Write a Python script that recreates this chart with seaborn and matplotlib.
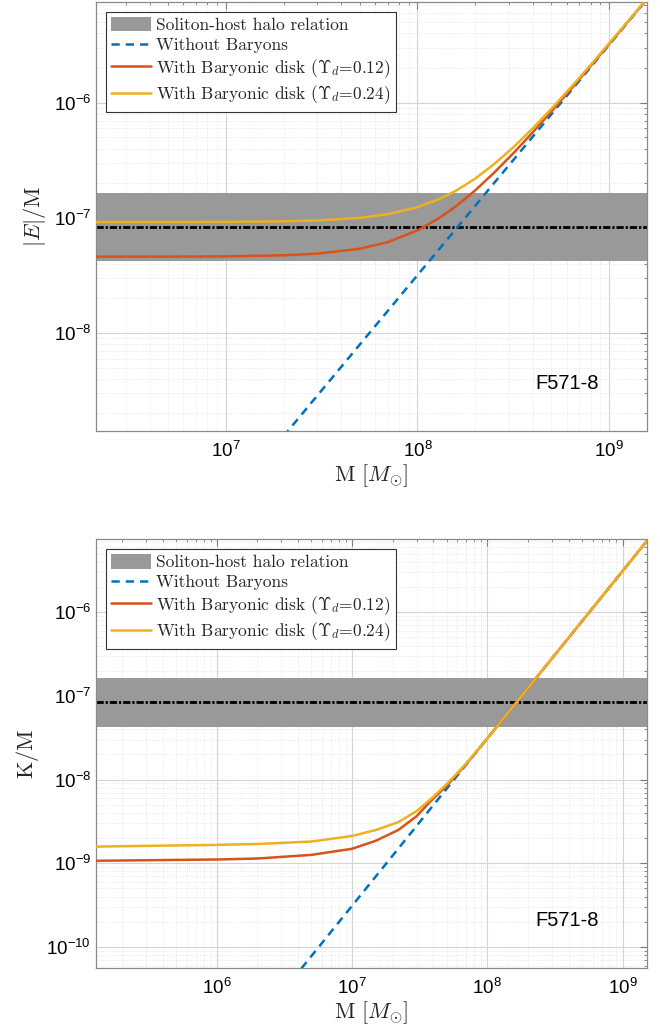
import numpy as np
import pandas as pd
import matplotlib
matplotlib.use("Agg")
import matplotlib.pyplot as plt
import matplotlib.ticker as mticker
from matplotlib.patches import Patch
from matplotlib.lines import Line2D
import seaborn as sns

# ---------------- data ----------------
band_low = 4.2e-8
band_high = 1.65e-7
band_mid = 8.4e-8

# top panel: |E|/M
M_top = [2.0e6, 5e6, 1e7, 2e7, 3e7, 5e7, 7e7, 1e8, 1.3e8, 1.6e8, 2e8, 2.5e8,
         3.2e8, 4e8, 5e8, 6.5e8, 8e8, 1e9, 1.25e9, 1.6e9]
E_no_baryons = [1.27e-11, 7.94e-11, 3.18e-10, 1.27e-9, 2.86e-9, 7.94e-9, 1.556e-8,
                3.18e-8, 5.37e-8, 8.13e-8, 1.27e-7, 1.99e-7, 3.25e-7, 5.08e-7,
                7.94e-7, 1.34e-6, 2.03e-6, 3.18e-6, 4.97e-6, 8.13e-6]
E_disk_012 = [4.60e-8, 4.61e-8, 4.63e-8, 4.73e-8, 4.89e-8, 5.39e-8, 6.16e-8,
              7.78e-8, 9.97e-8, 1.273e-7, 1.73e-7, 2.45e-7, 3.71e-7, 5.54e-7,
              8.40e-7, 1.386e-6, 2.076e-6, 3.226e-6, 5.02e-6, 8.18e-6]
E_disk_024 = [9.20e-8, 9.21e-8, 9.23e-8, 9.33e-8, 9.49e-8, 9.99e-8, 1.076e-7,
              1.238e-7, 1.457e-7, 1.733e-7, 2.19e-7, 2.91e-7, 4.17e-7, 6.00e-7,
              8.86e-7, 1.432e-6, 2.122e-6, 3.272e-6, 5.06e-6, 8.22e-6]

# bottom panel: K/M
M_bot = [1.2e5, 1e6, 2e6, 5e6, 1e7, 1.5e7, 2.2e7, 3e7, 3.8e7, 5e7, 7e7, 1e8,
         2e8, 5e8, 1e9, 1.6e9]
K_no_baryons = [4.5e-14, 3.10e-12, 1.24e-11, 7.76e-11, 3.10e-10, 6.98e-10, 1.50e-9,
                2.79e-9, 4.49e-9, 7.76e-9, 1.52e-8, 3.10e-8, 1.24e-7, 7.76e-7,
                3.10e-6, 7.94e-6]
K_disk_012 = [1.07e-9, 1.11e-9, 1.14e-9, 1.26e-9, 1.49e-9, 1.86e-9, 2.50e-9,
              3.65e-9, 5.5e-9, 8.4e-9, 1.54e-8, 3.11e-8, 1.24e-7, 7.76e-7,
              3.10e-6, 7.94e-6]
K_disk_024 = [1.58e-9, 1.66e-9, 1.70e-9, 1.82e-9, 2.12e-9, 2.50e-9, 3.10e-9,
              4.20e-9, 5.8e-9, 8.8e-9, 1.56e-8, 3.11e-8, 1.24e-7, 7.76e-7,
              3.10e-6, 7.94e-6]

# tick positions
xticks_top = [1e7, 1e8, 1e9]
yticks_top = [1e-8, 1e-7, 1e-6]
xticks_bot = [1e6, 1e7, 1e8, 1e9]
yticks_bot = [1e-10, 1e-9, 1e-8, 1e-7, 1e-6]

labels = ["Soliton-host halo relation", "Without Baryons",
          r"With Baryonic disk ($\Upsilon_d$=0.12)",
          r"With Baryonic disk ($\Upsilon_d$=0.24)"]
galaxy = "F571-8"

# ---------------- style ----------------
BLUE = "#0072BD"
RED = "#D95319"
YELLOW = "#EDB120"
GRAY = "#999999"

sns.set_theme(style="white")
plt.rcParams["font.family"] = ["Liberation Sans", "DejaVu Sans"]
plt.rcParams["mathtext.fontset"] = "cm"
plt.rcParams["axes.formatter.use_mathtext"] = True

fig = plt.figure(figsize=(6.6, 10.34), dpi=100)
ax1 = fig.add_axes([0.1455, 0.5832, 0.835, 0.4149])
ax2 = fig.add_axes([0.1455, 0.0638, 0.835, 0.4149])

LW = 1.8


def draw(ax, M, blue, red, yellow, xlim, ylim, xticks, yticks, ylabel):
    ax.set_xscale("log")
    ax.set_yscale("log")
    ax.axhspan(band_low, band_high, color=GRAY, lw=0, zorder=1)
    ax.axhline(band_mid, color="black", lw=2.0, zorder=2,
               dashes=(2.6, 0.7, 0.8, 0.7), dash_capstyle="butt")
    df = pd.DataFrame({"M": M, "blue": blue, "red": red, "yellow": yellow})
    sns.lineplot(data=df, x="M", y="blue", ax=ax, color=BLUE, lw=LW,
                 estimator=None, sort=False, zorder=3)
    ax.lines[-1].set_dashes((3.3, 2.4))
    sns.lineplot(data=df, x="M", y="red", ax=ax, color=RED, lw=LW,
                 estimator=None, sort=False, zorder=4)
    sns.lineplot(data=df, x="M", y="yellow", ax=ax, color=YELLOW, lw=LW,
                 estimator=None, sort=False, zorder=5)
    ax.set_xlim(*xlim)
    ax.set_ylim(*ylim)

    ax.xaxis.set_major_locator(mticker.FixedLocator(xticks))
    ax.yaxis.set_major_locator(mticker.FixedLocator(yticks))
    ax.xaxis.set_major_formatter(mticker.LogFormatterSciNotation())
    ax.yaxis.set_major_formatter(mticker.LogFormatterSciNotation())
    ax.xaxis.set_minor_locator(mticker.LogLocator(base=10, subs=np.arange(2, 10), numticks=40))
    ax.yaxis.set_minor_locator(mticker.LogLocator(base=10, subs=np.arange(2, 10), numticks=40))
    ax.xaxis.set_minor_formatter(mticker.NullFormatter())
    ax.yaxis.set_minor_formatter(mticker.NullFormatter())

    ax.grid(which="major", color="#d4d4d4", lw=0.8, ls="-", zorder=0)
    ax.grid(which="minor", color="#e0e0e0", lw=0.6, ls=":", zorder=0)
    ax.set_axisbelow(True)

    ax.tick_params(which="both", direction="in", top=True, right=True,
                   colors="#7a7a7a", labelcolor="black", labelsize=13.5)
    ax.tick_params(which="major", length=5, width=0.8)
    ax.tick_params(axis="x", which="major", pad=7)
    ax.tick_params(which="minor", length=2.5, width=0.6)
    for s in ax.spines.values():
        s.set_color("#8a8a8a")
        s.set_linewidth(0.9)

    ax.set_xlabel(r"M [$M_{\odot}$]", fontsize=16, family="cmr10", labelpad=1)
    ax.set_ylabel(ylabel, fontsize=16, family="cmr10", labelpad=4)

    handles = [Patch(facecolor=GRAY, edgecolor="none"),
               Line2D([], [], color=BLUE, lw=LW, dashes=(3.3, 2.4)),
               Line2D([], [], color=RED, lw=LW),
               Line2D([], [], color=YELLOW, lw=LW)]
    leg = ax.legend(handles, labels, loc="upper left", bbox_to_anchor=(0.018, 0.977),
                    borderaxespad=0, fancybox=False, framealpha=1,
                    edgecolor="#333333", prop={"family": "cmr10", "size": 12.5},
                    handlelength=2.3, handleheight=0.9, handletextpad=0.3,
                    labelspacing=0.22, borderpad=0.3)
    leg.get_frame().set_linewidth(0.8)
    ax.text(0.855, 0.11, galaxy, transform=ax.transAxes, fontsize=14.5,
            ha="center", va="center", color="black")


draw(ax1, M_top, E_no_baryons, E_disk_012, E_disk_024,
     (2.1e6, 1.58e9), (1.41e-9, 7.5e-6), xticks_top, yticks_top, r"$|E|/\mathrm{M}$")
draw(ax2, M_bot, K_no_baryons, K_disk_012, K_disk_024,
     (1.28e5, 1.52e9), (5.6e-11, 7.5e-6), xticks_bot, yticks_bot, r"K$/$M")

fig.savefig("out.png", dpi=100)
